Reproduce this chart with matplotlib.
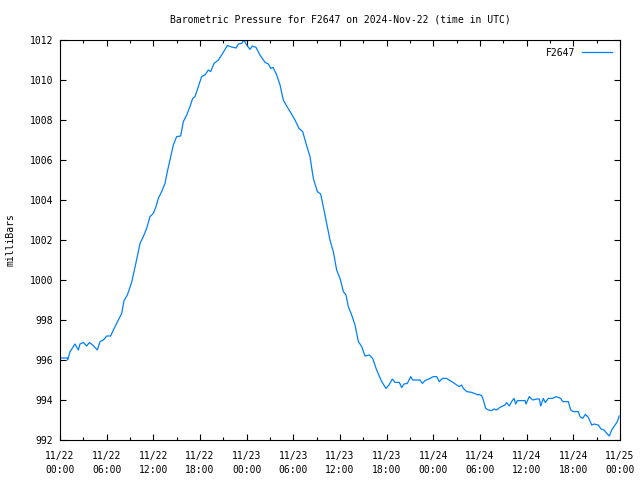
import numpy as np
import pandas as pd
import matplotlib
matplotlib.use('Agg')
import matplotlib.pyplot as plt
import matplotlib.dates as mdates

# hours after 2024-11-22 00:00 UTC and pressure (mbar)
hours = [0.0, 0.94, 0.98, 1.29, 1.93, 2.36, 2.57, 3.0, 3.43, 3.77, 4.2, 4.8, 5.14, 5.57,
         6.0, 6.51, 6.86, 7.29, 7.93, 8.23, 8.66, 9.21, 9.56, 9.94, 10.29, 10.71, 11.14,
         11.57, 12.0, 12.34, 12.64, 13.07, 13.5, 13.8, 14.14, 14.57, 15.0, 15.51, 15.86,
         16.29, 16.71, 17.06, 17.36, 17.79, 18.21, 18.64, 19.07, 19.37, 19.8, 20.36, 20.91,
         21.51, 22.07, 22.63, 22.93, 23.36, 23.66, 24.0, 24.43, 24.73, 25.2, 25.71, 26.36,
         26.79, 27.09, 27.4, 27.86, 28.29, 28.71, 29.14, 29.66, 30.21, 30.73, 31.2, 31.63,
         32.14, 32.57, 33.09, 33.51, 33.94, 34.37, 34.71, 35.14, 35.57, 36.0, 36.43, 36.77,
         37.07, 37.5, 37.93, 38.36, 38.79, 39.21, 39.77, 40.2, 40.71, 41.36, 41.91, 42.3,
         42.73, 43.07, 43.63, 43.93, 44.23, 44.66, 45.09, 45.34, 46.29, 46.59, 46.93, 47.57,
         48.0, 48.43, 48.77, 49.16, 49.71, 50.14, 50.57, 51.0, 51.34, 51.64, 51.86, 52.29,
         52.93, 53.49, 53.7, 53.9, 54.21, 54.43, 54.73, 55.07, 55.5, 55.8, 56.14, 56.57,
         57.21, 57.43, 57.77, 58.07, 58.37, 58.59, 58.8, 59.36, 59.79, 59.91, 60.34, 60.77,
         61.29, 61.63, 61.8, 62.14, 62.4, 62.79, 63.34, 63.77, 64.37, 64.63, 65.36, 65.66,
         66.0, 66.64, 66.86, 67.2, 67.54, 67.93, 68.36, 68.7, 69.21, 69.56, 69.94, 70.37,
         70.63, 70.93, 71.36, 71.66, 71.89]
pressure = [996.1, 996.1, 996.0, 996.42, 996.8, 996.5, 996.8, 996.88, 996.7, 996.87, 996.75,
            996.5, 996.92, 997.0, 997.2, 997.2, 997.5, 997.83, 998.33, 998.97, 999.25, 999.88,
            1000.5, 1001.17, 1001.83, 1002.17, 1002.58, 1003.17, 1003.33, 1003.67, 1004.08,
            1004.42, 1004.83, 1005.42, 1006.0, 1006.75, 1007.17, 1007.2, 1007.92, 1008.25,
            1008.67, 1009.08, 1009.17, 1009.67, 1010.17, 1010.25, 1010.5, 1010.42, 1010.83,
            1011.0, 1011.33, 1011.72, 1011.65, 1011.6, 1011.8, 1011.83, 1012.0, 1011.75,
            1011.53, 1011.7, 1011.63, 1011.25, 1010.88, 1010.8, 1010.58, 1010.63, 1010.25,
            1009.75, 1009.0, 1008.7, 1008.37, 1008.0, 1007.58, 1007.42, 1006.83, 1006.17,
            1005.08, 1004.42, 1004.3, 1003.5, 1002.67, 1002.0, 1001.42, 1000.5, 1000.08,
            999.42, 999.25, 998.67, 998.25, 997.75, 996.92, 996.67, 996.2, 996.25, 996.08,
            995.5, 994.92, 994.58, 994.75, 995.05, 994.88, 994.88, 994.62, 994.8, 994.83,
            995.17, 995.0, 995.0, 994.83, 994.97, 995.08, 995.17, 995.17, 994.92, 995.08,
            995.08, 994.97, 994.87, 994.75, 994.67, 994.75, 994.58, 994.42, 994.38, 994.3,
            994.25, 994.28, 994.22, 994.0, 993.58, 993.5, 993.47, 993.55, 993.5, 993.63,
            993.75, 993.87, 993.7, 993.92, 994.08, 993.8, 993.97, 993.97, 993.97, 993.8,
            994.17, 994.0, 994.05, 994.05, 993.7, 994.08, 993.87, 994.08, 994.08, 994.17,
            994.08, 993.92, 993.92, 993.5, 993.42, 993.42, 993.17, 993.08, 993.28, 993.13,
            992.75, 992.8, 992.75, 992.55, 992.5, 992.3, 992.2, 992.5, 992.75, 992.92, 993.2]

t0 = pd.Timestamp('2024-11-22 00:00')
times = t0 + pd.to_timedelta(hours, unit='h')

plt.rcParams['font.family'] = 'DejaVu Sans Mono'
plt.rcParams['font.size'] = 7

fig = plt.figure(figsize=(6.4, 4.8), dpi=100)
ax = fig.add_axes([60/640, 40/480, 560/640, 400/480])

ax.plot(times, pressure, color='#0080ff', lw=0.9, label='F2647')

ax.set_xlim(t0, t0 + pd.Timedelta(hours=72))
ax.set_ylim(992, 1012)
ax.set_yticks(np.arange(992, 1013, 2))

ax.xaxis.set_major_locator(mdates.HourLocator(byhour=[0, 6, 12, 18]))
ax.xaxis.set_minor_locator(mdates.HourLocator(byhour=[3, 9, 15, 21]))
ax.xaxis.set_major_formatter(mdates.DateFormatter('%m/%d\n%H:%M'))
for lab in ax.get_xticklabels():
    lab.set_linespacing(1.5)

ax.tick_params(which='both', direction='in', top=True, right=True, width=0.8)
ax.tick_params(which='major', length=4.5)
ax.tick_params(which='minor', length=2.5)
ax.tick_params(axis='x', which='major', pad=8)
ax.tick_params(axis='y', which='major', pad=5)
for s in ax.spines.values():
    s.set_linewidth(0.8)

ax.set_title('Barometric Pressure for F2647 on 2024-Nov-22 (time in UTC)', pad=12.5, fontsize=7)
ax.set_ylabel('milliBars', labelpad=10)

ax.legend(loc='upper right', frameon=False, markerfirst=False, handlelength=3.1,
          handletextpad=0.7, borderaxespad=0.5, borderpad=0.3)

fig.savefig('out.png', dpi=100)
